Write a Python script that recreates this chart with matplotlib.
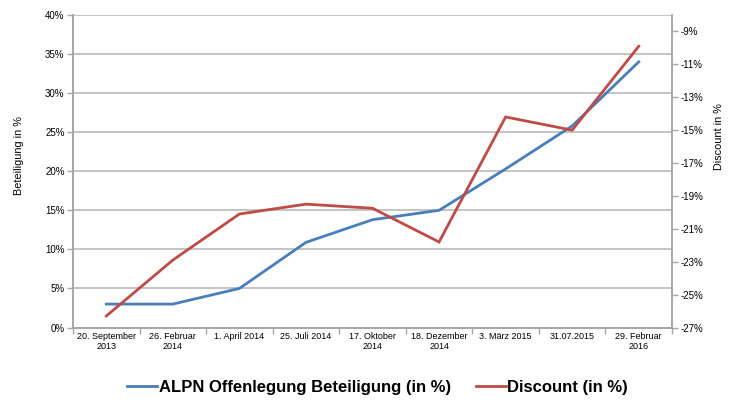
import numpy as np
import matplotlib
matplotlib.use("Agg")
import matplotlib.pyplot as plt
from matplotlib.ticker import FuncFormatter, FixedLocator

plt.rcParams['font.family'] = ['Liberation Sans', 'DejaVu Sans']

dates = ["20. September\n2013", "26. Februar\n2014", "1. April 2014", "25. Juli 2014",
         "17. Oktober\n2014", "18. Dezember\n2014", "3. März 2015", "31.07.2015",
         "29. Februar\n2016"]
beteiligung = [3.0, 3.0, 5.0, 10.9, 13.8, 15.0, 20.3, 25.8, 34.0]
discount = [-26.3, -22.9, -20.1, -19.5, -19.75, -21.8, -14.2, -15.0, -9.9]

blue = "#4A7EBB"
red = "#BE4B48"
grey = "#A6A6A6"

fig = plt.figure(figsize=(7.33, 4.03), dpi=100)
ax = fig.add_axes([0.0996, 0.1873, 0.8172, 0.7755])
ax2 = ax.twinx()

x = np.arange(len(dates))
ax.plot(x, beteiligung, color=blue, lw=2.0, label="ALPN Offenlegung Beteiligung (in %)",
        solid_joinstyle='miter')
ax2.plot(x, discount, color=red, lw=2.0, label="Discount (in %)", solid_joinstyle='miter')

ax.set_xlim(-0.5, len(dates) - 0.5)
ax.set_ylim(0, 40)
ax.set_yticks(np.arange(0, 41, 5))
ax.yaxis.set_major_formatter(FuncFormatter(lambda v, p: f"{v:.0f}%"))
ax2.set_ylim(-27, -8)
ax2.set_yticks(np.arange(-27, -8, 2))
ax2.yaxis.set_major_formatter(FuncFormatter(lambda v, p: f"{v:.0f}%"))

ax.set_xticks(x)
ax.set_xticklabels(dates, fontsize=6.5)
ax.xaxis.set_minor_locator(FixedLocator(np.arange(-0.5, len(dates), 1)))
ax.tick_params(axis='x', which='major', length=0, pad=3)
ax.tick_params(axis='x', which='minor', length=4, color=grey, width=1)
ax.tick_params(axis='y', labelsize=7, length=4, color=grey, width=1, pad=2)
ax2.tick_params(axis='y', labelsize=7, length=4, color=grey, width=1, pad=2)

ax.grid(axis='y', color="#BFBFBF", lw=1.3)
ax.set_axisbelow(True)
for a in (ax, ax2):
    for s in a.spines.values():
        s.set_color(grey)
        s.set_linewidth(1.2)
    a.spines['top'].set_visible(False)

ax.set_ylabel("Beteiligung in %", fontsize=7.8)
ax.yaxis.set_label_coords(-0.081, 0.55)
ax2.set_ylabel("Discount in %", fontsize=7.8)
ax2.yaxis.set_label_coords(1.07, 0.61)

h1, l1 = ax.get_legend_handles_labels()
h2, l2 = ax2.get_legend_handles_labels()
fig.legend(h1 + h2, l1 + l2, loc='center', bbox_to_anchor=(0.515, 0.038), ncol=2,
           frameon=False, prop={'size': 12, 'weight': 'bold'}, handlelength=1.8,
           handletextpad=0.1, columnspacing=1.5)

fig.savefig("out.png", dpi=100)
